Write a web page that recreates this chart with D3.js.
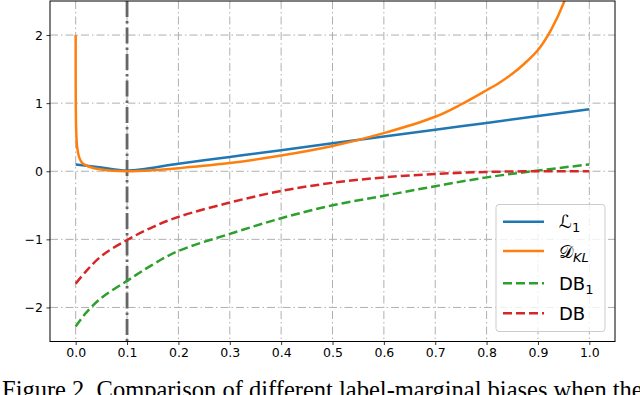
<!DOCTYPE html>
<html>
<head>
<meta charset="utf-8">
<title>Label-marginal biases</title>
<script src="https://cdnjs.cloudflare.com/ajax/libs/d3/7.8.5/d3.min.js"></script>
<style>
body { margin: 0; background: #fff; }
</style>
</head>
<body>
<svg id="chart" width="640" height="395"></svg>
<script>
// values
var xTicks = [0, 0.1, 0.2, 0.3, 0.4, 0.5, 0.6, 0.7, 0.8, 0.9, 1.0];
var yTicks = [-2, -1, 0, 1, 2];

var l1X = [0, 0.05, 0.1, 0.2, 0.3, 0.4, 0.5, 0.6, 0.7, 0.8, 0.9, 1.0];
var l1Y = [0.10, 0.055, 0.01, 0.11, 0.21, 0.31, 0.41, 0.51, 0.61, 0.71, 0.81, 0.91];

var klX = [0, 0.001, 0.003, 0.007, 0.013, 0.025, 0.05, 0.1, 0.15, 0.2, 0.3, 0.4, 0.5, 0.6, 0.7, 0.75, 0.8, 0.825, 0.85, 0.875, 0.9, 0.925, 0.95, 0.97];
var klY = [2.0, 0.6, 0.35, 0.2, 0.12, 0.07, 0.025, 0.0, 0.015, 0.045, 0.12, 0.23, 0.37, 0.56, 0.80, 0.98, 1.19, 1.30, 1.43, 1.59, 1.78, 2.07, 2.47, 2.95];

var db1X = [0, 0.02, 0.05, 0.1, 0.15, 0.2, 0.3, 0.4, 0.5, 0.6, 0.7, 0.8, 0.9, 1.0];
var db1Y = [-2.28, -2.08, -1.86, -1.61, -1.37, -1.17, -0.92, -0.69, -0.50, -0.36, -0.22, -0.09, 0.01, 0.10];

var dbX = [0, 0.02, 0.05, 0.1, 0.15, 0.2, 0.3, 0.4, 0.5, 0.6, 0.7, 0.8, 0.9, 1.0];
var dbY = [-1.65, -1.47, -1.245, -1.01, -0.82, -0.67, -0.46, -0.29, -0.17, -0.09, -0.04, -0.01, 0.0, 0.0];

var markerX = 0.1;

var plotL = 50, plotR = 615, plotT = 1, plotB = 341.5;

var svg = d3.select('#chart');
var x = d3.scaleLinear().domain([-0.05, 1.05]).range([plotL, plotR]);
var y = d3.scaleLinear().domain([-2.5, 2.5]).range([plotB, plotT]);

svg.append('defs').append('clipPath').attr('id', 'plot')
    .append('rect').attr('x', plotL).attr('y', plotT).attr('width', plotR - plotL).attr('height', plotB - plotT);

// grid
var grid = svg.append('g').attr('stroke', '#b0b0b0').attr('stroke-width', 1).attr('stroke-dasharray', '8,3,1.5,3');
grid.selectAll('.gx').data(xTicks).enter().append('line')
    .attr('x1', function (d) { return x(d); }).attr('x2', function (d) { return x(d); })
    .attr('y1', plotT).attr('y2', plotB);
grid.selectAll('.gy').data(yTicks).enter().append('line')
    .attr('x1', plotL).attr('x2', plotR)
    .attr('y1', function (d) { return y(d); }).attr('y2', function (d) { return y(d); });

// vertical marker
svg.append('line')
    .attr('x1', x(markerX)).attr('x2', x(markerX))
    .attr('y1', plotT).attr('y2', plotB)
    .attr('stroke', '#666').attr('stroke-width', 2.8)
    .attr('stroke-dasharray', '16,4,2.5,4');

var line = d3.line()
    .x(function (d) { return x(d[0]); })
    .y(function (d) { return y(d[1]); })
    .curve(d3.curveCatmullRom.alpha(0.5));

var series = [
    { xs: l1X, ys: l1Y, color: '#1f77b4', dash: null },
    { xs: klX, ys: klY, color: '#ff7f0e', dash: null },
    { xs: db1X, ys: db1Y, color: '#2ca02c', dash: '9,4' },
    { xs: dbX, ys: dbY, color: '#d62728', dash: '9,4' }
];

var lines = svg.append('g').attr('clip-path', 'url(#plot)');
series.forEach(function (s) {
    lines.append('path')
        .datum(d3.zip(s.xs, s.ys))
        .attr('d', line)
        .attr('fill', 'none')
        .attr('stroke', s.color)
        .attr('stroke-width', 2.5)
        .attr('stroke-dasharray', s.dash);
});

// axes
var xAxis = d3.axisBottom(x).tickValues(xTicks).tickFormat(d3.format('.1f')).tickSize(3.5).tickPadding(3.5);
var yAxis = d3.axisLeft(y).tickValues(yTicks).tickFormat(function (d) { return d < 0 ? '\u2212' + Math.abs(d) : d; }).tickSize(3.5).tickPadding(3.5);

var gx = svg.append('g').attr('transform', 'translate(0,' + plotB + ')').call(xAxis);
var gy = svg.append('g').attr('transform', 'translate(' + plotL + ',0)').call(yAxis);
[gx, gy].forEach(function (g) {
    g.attr('font-family', null).attr('font-size', null);
    g.select('.domain').remove();
    g.selectAll('text').style('font-size', '12.5px').style('font-family', 'DejaVu Sans').attr('fill', '#000');
    g.selectAll('line').attr('stroke', '#000').attr('stroke-width', 0.8);
});

svg.append('rect')
    .attr('x', plotL).attr('y', plotT).attr('width', plotR - plotL).attr('height', plotB - plotT)
    .attr('fill', 'none').attr('stroke', '#000').attr('stroke-width', 1);

// legend
var legend = svg.append('g');
legend.append('rect')
    .attr('x', 496).attr('y', 204.5).attr('width', 109).attr('height', 127)
    .attr('rx', 3).attr('fill', '#fff').attr('fill-opacity', 0.8)
    .attr('stroke', '#ccc').attr('stroke-width', 1);

var labels = [
    { main: '\u2112', sub: '1', italic: false },
    { main: '\uD835\uDC9F', sub: 'KL', italic: true },
    { main: 'DB', sub: '1', italic: false },
    { main: 'DB', sub: '', italic: false }
];
var rowY = [221.7, 251, 283.3, 313.3];

labels.forEach(function (l, i) {
    var s = series[i];
    legend.append('line')
        .attr('x1', 503).attr('x2', 544)
        .attr('y1', rowY[i]).attr('y2', rowY[i])
        .attr('stroke', s.color).attr('stroke-width', 2.5)
        .attr('stroke-dasharray', s.dash);
    var t = legend.append('text')
        .attr('x', 559).attr('y', rowY[i] + 6.5)
        .style('font-family', 'DejaVu Sans').style('font-size', '18px').attr('fill', '#000');
    t.append('tspan').text(l.main);
    if (l.sub) {
        var sb = t.append('tspan').text(l.sub).attr('dy', 4).style('font-size', '13px');
        if (l.italic) sb.style('font-style', 'italic');
    }
});

// caption
svg.append('text')
    .attr('x', 2).attr('y', 398)
    .style('font-family', 'Liberation Serif')
    .style('font-size', '24.5px')
    .attr('fill', '#000')
    .text('Figure 2. Comparison of different label-marginal biases when the');
</script>
</body>
</html>
